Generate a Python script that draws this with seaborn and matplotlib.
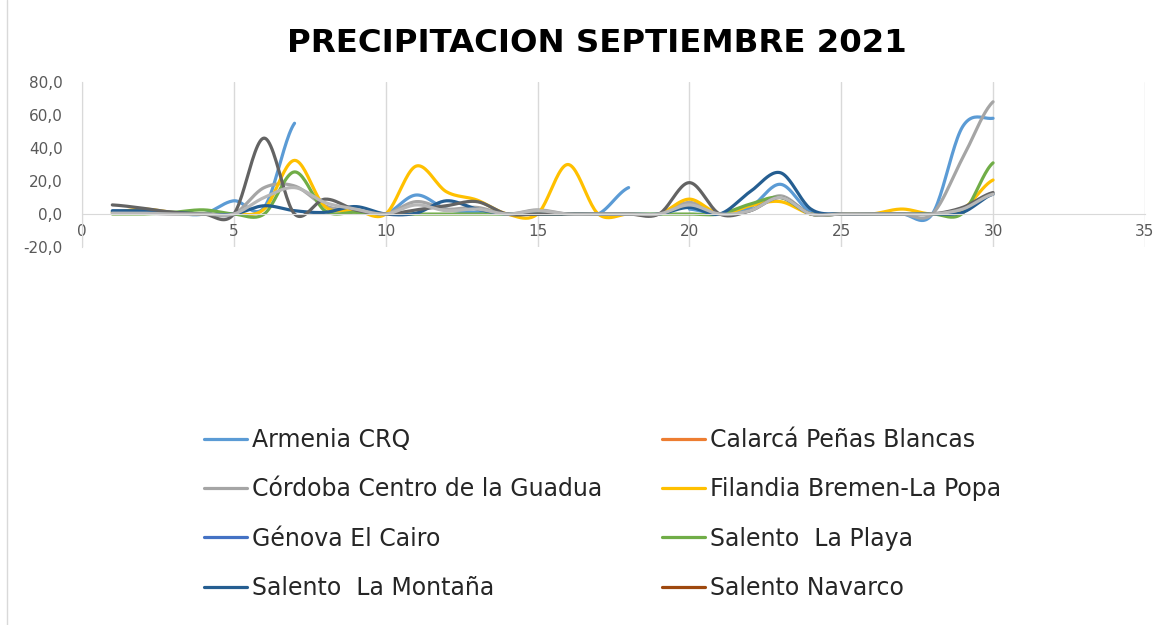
import numpy as np
import pandas as pd
import seaborn as sns
import matplotlib.pyplot as plt
from matplotlib.lines import Line2D

nan = np.nan
days = list(range(1, 31))

# Daily precipitation (mm), September 2021
armenia = [1.5, 1, 0.5, 0, 8, 4, 55, nan, nan, 0, 11.5, 3, 1, 0, 0, nan, 0, 16, nan, 3, 0, 4, 18, 1, 0, 0, 0, 0, 53, 58]
calarca = [nan] * 30
cordoba = [1, 0.5, 0, 0, 0, 16, 17, 5, 2, 0, 7.5, 3, 4, 0, 2.5, 0, 0, 0, 0, 7, 0, 2, 11, 0, 0, 0, 0, 0, 34, 68]
filandia = [1, 3, 1, 0, 0, 3, 32.5, 4.5, 2.5, 0, 29, 13.5, 8.5, 0, 0, 30, 0, 0, 0, 9, 0, 5, 7.5, 0, 0, 0, 3, 0, 3, 20.6]
genova = [nan] * 30
playa = [0, 0, 1, 2.5, 0, 0, 25.5, 2, 1, 0, 0, 0, 0, 0, 0, 0, 0, 0, 0, 0, 0, 6, 10, 0, 0, 0, 0, 0, 0.5, 31]
montana = [2, 2, 1, 0, 0, 5, 2, 1, 4.5, 0, 0.5, 8, 3, 0, 0, 0, 0, 0, 0, 4, 0, 13.5, 25, 3, 0, 0, 0, 0, 1, 12]
navarco = [nan] * 30
serie9 = [5.5, 3.5, 1, 0, 0, 46, 0, 9, 2.5, 0, 2.5, 5, 7.5, 0, 0, 0, 0, 0, 0, 19, 0, 2, 10, 0, 0, 0, 0, 0, 4, 13]
serie15 = [0.5, 0.5, 0, 0, 0, 10, 16, 7, 3, 0, 5.5, 2, 3, 0, 2, 0, 0, 0, 0, 5.5, 0, 2, 10, 0, 0, 0, 0, 0, 3, 12]

stations = ['Armenia CRQ', 'Calarcá Peñas Blancas', 'Córdoba Centro de la Guadua',
            'Filandia Bremen-La Popa', 'Génova El Cairo', 'Salento  La Playa',
            'Salento  La Montaña', 'Salento Navarco', 'Serie 9', 'Serie 15']
values = [armenia, calarca, cordoba, filandia, genova, playa, montana, navarco, serie9, serie15]
colors = ['#5B9BD5', '#ED7D31', '#A5A5A5', '#FFC000', '#4472C4', '#70AD47',
          '#255E91', '#9E480E', '#636363', '#B7B7B7']
n_legend = 8


def smooth(x, y, n=24):
    # Excel-like smoothed line: Catmull-Rom as cubic Bezier
    xs, ys = [], []
    m = len(y)
    t = np.linspace(0, 1, n)
    for i in range(m - 1):
        y0 = y[i - 1] if i > 0 else y[i]
        y3 = y[i + 2] if i + 2 < m else y[i + 1]
        c1 = y[i] + (y[i + 1] - y0) / 6
        c2 = y[i + 1] - (y3 - y[i]) / 6
        b = (1 - t) ** 3 * y[i] + 3 * (1 - t) ** 2 * t * c1 + 3 * (1 - t) * t ** 2 * c2 + t ** 3 * y[i + 1]
        xs.extend(x[i] + t * (x[i + 1] - x[i]))
        ys.extend(b)
    return xs, ys


rows = []
for name, vals in zip(stations, values):
    seg, cur = 0, []
    for d, v in list(zip(days, vals)) + [(None, nan)]:
        if v is not None and not np.isnan(v):
            cur.append((d, v))
        else:
            if len(cur) > 1:
                xs, ys = smooth([c[0] for c in cur], [c[1] for c in cur])
                for a, b in zip(xs, ys):
                    rows.append((name, seg, a, b))
            cur = []
            seg += 1
df = pd.DataFrame(rows, columns=['estacion', 'seg', 'dia', 'mm'])

sns.set_style('white')
plt.rcParams['font.family'] = ['DejaVu Sans']

fig = plt.figure(figsize=(11.64, 6.25), dpi=100)
ax = fig.add_axes([0.0704, 0.6048, 0.9132, 0.264])

drawn = [s for s in stations if s in set(df['estacion'])]
sns.lineplot(data=df, x='dia', y='mm', hue='estacion', units='seg', estimator=None,
             sort=False, hue_order=drawn, palette=dict(zip(stations, colors)),
             linewidth=2.3, legend=False, ax=ax)

ax.set_xlim(0, 35)
ax.set_ylim(-20, 80)
ax.set_xticks(range(0, 36, 5))
ax.set_yticks(range(-20, 81, 20))
ax.set_yticklabels([f'{v},0' for v in range(-20, 81, 20)])
ax.set_xlabel('')
ax.set_ylabel('')
ax.grid(axis='x', color='#D9D9D9', linewidth=1)
ax.grid(axis='y', visible=False)
for s in ['top', 'right']:
    ax.spines[s].set_visible(False)
ax.spines['left'].set_color('#D9D9D9')
ax.spines['bottom'].set_color('#D9D9D9')
ax.spines['bottom'].set_position(('data', 0))
ax.set_axisbelow(True)
ax.tick_params(axis='x', length=0, pad=7, labelsize=11, labelcolor='#595959')
ax.tick_params(axis='y', length=0, pad=14, labelsize=11, labelcolor='#595959')

fig.text(0.513, 0.931, 'PRECIPITACION SEPTIEMBRE 2021', ha='center', va='center',
         fontsize=23.3, fontweight='bold', color='#000000')

# legend: row-wise order in two columns
handles = [Line2D([], [], color=c, linewidth=2.3) for c in colors[:n_legend]]
labels = stations[:n_legend]
order = [0, 2, 4, 6, 1, 3, 5, 7]
fig.legend([handles[i] for i in order], [labels[i] for i in order], ncol=2,
           loc='upper left', bbox_to_anchor=(0.165, 0.334), frameon=False,
           fontsize=17, handlelength=1.82, handletextpad=0.21, columnspacing=2.54,
           labelspacing=1.07, borderpad=0, labelcolor='#262626')

fig.add_artist(Line2D([0.006, 0.006], [0, 1], color='#D9D9D9', linewidth=1))

fig.savefig('out.png', dpi=100)
